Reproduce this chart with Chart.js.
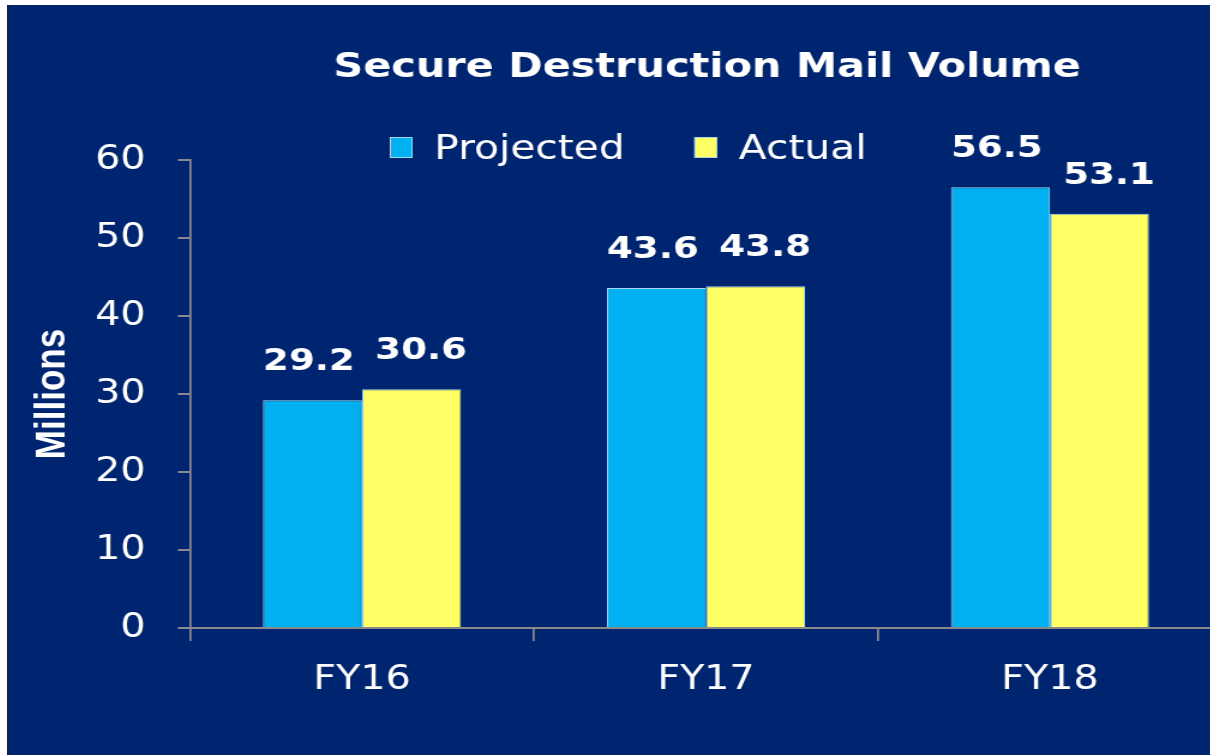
<!DOCTYPE html>
<html><head><meta charset="utf-8">
<script src="https://cdn.jsdelivr.net/npm/chart.js@4/dist/chart.umd.min.js"></script>
<style>
html,body{margin:0;padding:0;background:#fff;overflow:hidden;width:1213px;height:755px;}
#clip{position:absolute;left:0;top:0;width:1210px;height:755px;overflow:hidden;}
#wrap{position:absolute;left:7px;top:5px;transform:scaleX(1.2);transform-origin:0 0;}
canvas{display:block;background:#002570;}
</style></head><body>
<div id="clip"><div id="wrap"><canvas id="c" width="1030" height="750"></canvas></div></div>
<script>
const categories = ['FY16', 'FY17', 'FY18'];
const projected = [29.2, 43.6, 56.5];
const actual = [30.6, 43.8, 53.1];
const seriesNames = ['Projected', 'Actual'];
const yMin = 0, yMax = 60, yStep = 10;
const chartTitle = 'Secure Destruction Mail Volume';
const yAxisTitle = 'Millions';

const COLORS = ['#00B0F0', '#FFFF66'];
const AXIS = '#8a8a8a';

const titlePlugin = {
  id: 'customTitle',
  afterDraw(chart) {
    const ctx = chart.ctx, a = chart.chartArea;
    ctx.save();
    ctx.fillStyle = '#ffffff';
    ctx.font = 'bold 34.5px "DejaVu Sans"';
    ctx.textAlign = 'center';
    ctx.textBaseline = 'middle';
    ctx.fillText(chartTitle, (a.left + a.right) / 2 + 1, 63);
    ctx.restore();
  }
};

const legendPlugin = {
  id: 'customLegend',
  afterDraw(chart) {
    const ctx = chart.ctx;
    ctx.save();
    ctx.font = '34px "DejaVu Sans"';
    ctx.textBaseline = 'middle';
    ctx.textAlign = 'left';
    let x = 319;
    const boxW = 19, boxH = 21, boxTop = 132, textY = 145, gap = 18, itemGap = 58;
    chart.data.datasets.forEach((ds, i) => {
      ctx.fillStyle = ds.backgroundColor;
      ctx.fillRect(x, boxTop, boxW, boxH);
      ctx.strokeStyle = '#a6d8f0';
      ctx.lineWidth = 1;
      ctx.strokeRect(x + 0.5, boxTop + 0.5, boxW - 1, boxH - 1);
      x += boxW + gap;
      ctx.fillStyle = '#ffffff';
      ctx.fillText(ds.label, x, textY);
      x += ctx.measureText(ds.label).width + itemGap;
    });
    ctx.restore();
  }
};

const valueLabels = {
  id: 'valueLabels',
  afterDatasetsDraw(chart) {
    const ctx = chart.ctx;
    ctx.save();
    ctx.fillStyle = '#ffffff';
    ctx.font = 'bold 31px "DejaVu Sans"';
    ctx.textAlign = 'center';
    ctx.textBaseline = 'middle';
    const dx = [-3, 8];
    chart.data.datasets.forEach((ds, i) => {
      const meta = chart.getDatasetMeta(i);
      meta.data.forEach((bar, j) => {
        ctx.fillText(ds.data[j].toFixed(1), bar.x + dx[i], bar.y - 38);
      });
    });
    ctx.restore();
  }
};

new Chart(document.getElementById('c'), {
  type: 'bar',
  data: {
    labels: categories,
    datasets: [
      { label: seriesNames[0], data: projected, backgroundColor: COLORS[0], borderColor: '#a6d8f0', borderWidth: 1, categoryPercentage: 0.5756, barPercentage: 1 },
      { label: seriesNames[1], data: actual, backgroundColor: COLORS[1], borderColor: '#a6d8f0', borderWidth: 1, categoryPercentage: 0.5756, barPercentage: 1 }
    ]
  },
  options: {
    responsive: false,
    devicePixelRatio: 1,
    animation: false,
    layout: { padding: { left: 10, top: 155, right: 17.5, bottom: 0 } },
    plugins: { legend: { display: false }, tooltip: { enabled: false }, title: { display: false } },
    scales: {
      x: {
        offset: true,
        grid: { offset: true, drawOnChartArea: false, drawTicks: true, tickLength: 13, color: AXIS, lineWidth: 1.7 },
        border: { display: true, color: AXIS, width: 2 },
        ticks: { color: '#ffffff', font: { family: 'DejaVu Sans', size: 33 }, padding: 20 },
        afterFit: s => { s.height = 127; }
      },
      y: {
        min: yMin, max: yMax,
        ticks: { stepSize: yStep, color: '#ffffff', font: { family: 'DejaVu Sans', size: 33 }, padding: 27 },
        grid: { drawOnChartArea: false, drawTicks: true, tickLength: 10, color: AXIS, lineWidth: 2 },
        border: { display: true, color: AXIS, width: 1.7 },
        title: { display: true, text: yAxisTitle, color: '#ffffff', font: { family: 'Liberation Sans', size: 35, weight: 'bold' }, padding: { top: 7, bottom: 0 } },
        afterFit: s => { s.width = 142.5; }
      }
    }
  },
  plugins: [titlePlugin, legendPlugin, valueLabels]
});
</script>
</body></html>
